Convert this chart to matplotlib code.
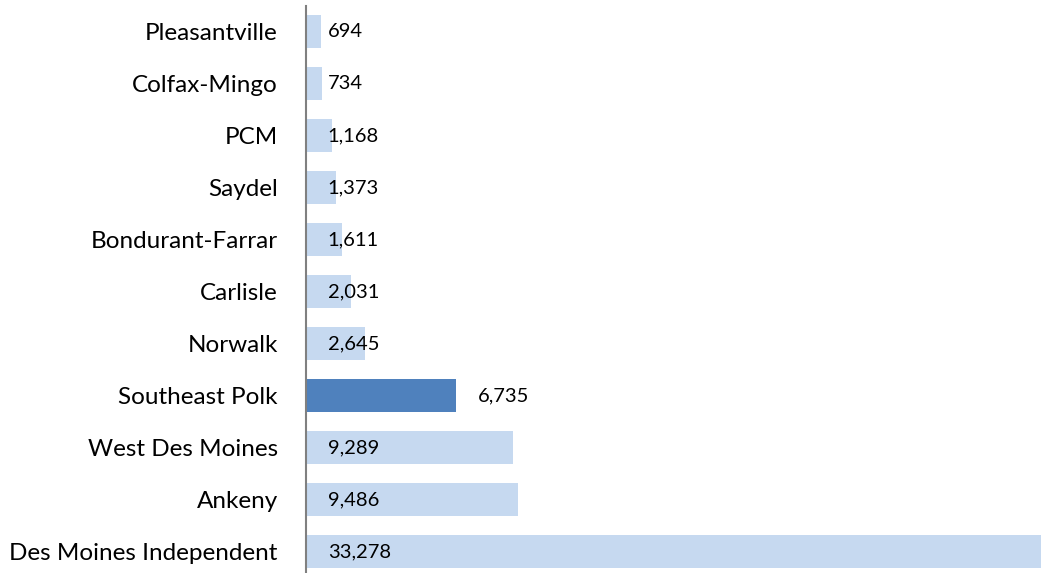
import matplotlib
matplotlib.use('Agg')
import matplotlib.pyplot as plt

districts = ['Pleasantville', 'Colfax-Mingo', 'PCM', 'Saydel', 'Bondurant-Farrar',
             'Carlisle', 'Norwalk', 'Southeast Polk', 'West Des Moines', 'Ankeny',
             'Des Moines Independent']
enrollment = [694, 734, 1168, 1373, 1611, 2031, 2645, 6735, 9289, 9486, 33278]
highlight = 'Southeast Polk'

light = '#C6D9F0'
dark = '#4F81BD'

plt.rcParams['font.family'] = ['Lato', 'DejaVu Sans']

fig = plt.figure(figsize=(10.41, 5.73), dpi=100)
ax = fig.add_axes([305.5 / 1041, 0, 1 - 305.5 / 1041, 567 / 573])

colors = [dark if d == highlight else light for d in districts]
ypos = range(len(districts))
ax.barh(ypos, enrollment, height=0.635, color=colors)

ax.set_xlim(0, 32900)
ax.set_ylim(10.41, -0.49)
ax.set_yticks(list(ypos))
ax.set_yticklabels(districts, fontsize=17.5)
ax.tick_params(axis='y', length=0, pad=20)
ax.set_xticks([])
for s in ['top', 'right', 'bottom']:
    ax.spines[s].set_visible(False)
ax.spines['left'].set_color('#808080')
ax.spines['left'].set_linewidth(1.5)

# value labels: inside base, except the highlighted one goes past its bar end
for i, (d, v) in enumerate(zip(districts, enrollment)):
    x0 = v if d == highlight else 0
    ax.annotate(f'{v:,}', (x0, i), xytext=(16, 0), textcoords='offset points',
                va='center', ha='left', fontsize=14.5, color='black')

fig.savefig('out.png', dpi=100)
